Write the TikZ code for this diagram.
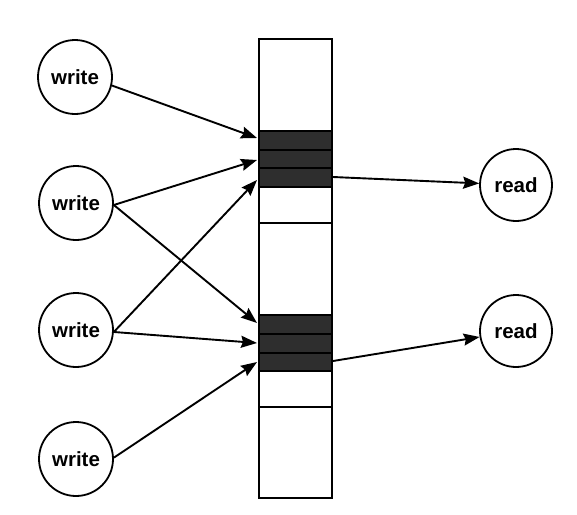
\documentclass[tikz,border=0pt]{standalone}
\usepackage{fontspec}
\setmainfont{Liberation Sans}
\usetikzlibrary{arrows.meta}
\begin{document}
\begin{tikzpicture}[x=1pt,y=-1pt,
  proc/.style={circle,draw,line width=1.8pt,minimum size=74pt,inner sep=0pt,font=\fontsize{20.5}{22}\selectfont\bfseries},
  conn/.style={line width=1.9pt,-{Stealth[length=16pt,width=12pt,inset=2pt]}},
  cell/.style={draw,line width=1.8pt},
  dark/.style={draw,line width=1.8pt,fill=black!82}]
\useasboundingbox (0,0) rectangle (577,514);
% column
\draw[cell] (259,39) rectangle (332,498);
\draw[line width=1.8pt] (259,223) -- (332,223);
\draw[line width=1.8pt] (259,407) -- (332,407);
\draw[dark] (259,131) rectangle (332,150);
\draw[dark] (259,150) rectangle (332,168);
\draw[dark] (259,168) rectangle (332,187);
\draw[dark] (259,315) rectangle (332,334);
\draw[dark] (259,334) rectangle (332,353);
\draw[dark] (259,353) rectangle (332,371);
% targets
\coordinate (a1) at (257,138);
\coordinate (a2) at (257,160);
\coordinate (a3) at (257,180);
\coordinate (b1) at (257,323);
\coordinate (b2) at (257,343);
\coordinate (b3) at (257,362);
\coordinate (o1) at (333,177);
\coordinate (o2) at (333,361);
% nodes
\node[proc] (w1) at (75,77) {write};
\node[proc] (w2) at (76,203) {write};
\node[proc] (w3) at (76,330) {write};
\node[proc] (w4) at (76,459) {write};
\node[proc,minimum size=72pt] (r1) at (516,185) {read};
\node[proc,minimum size=72pt] (r2) at (516,331) {read};
% connectors
\draw[conn] (w1.-13) -- (a1);
\draw[conn] (w2.-3) -- (a2);
\draw[conn] (w2.-3) -- (b1);
\draw[conn] (w3.-3) -- (a3);
\draw[conn] (w3.-3) -- (b2);
\draw[conn] (w4.2) -- (b3);
\draw[conn] (o1) -- (r1);
\draw[conn] (o2) -- (r2);
\end{tikzpicture}
\end{document}
